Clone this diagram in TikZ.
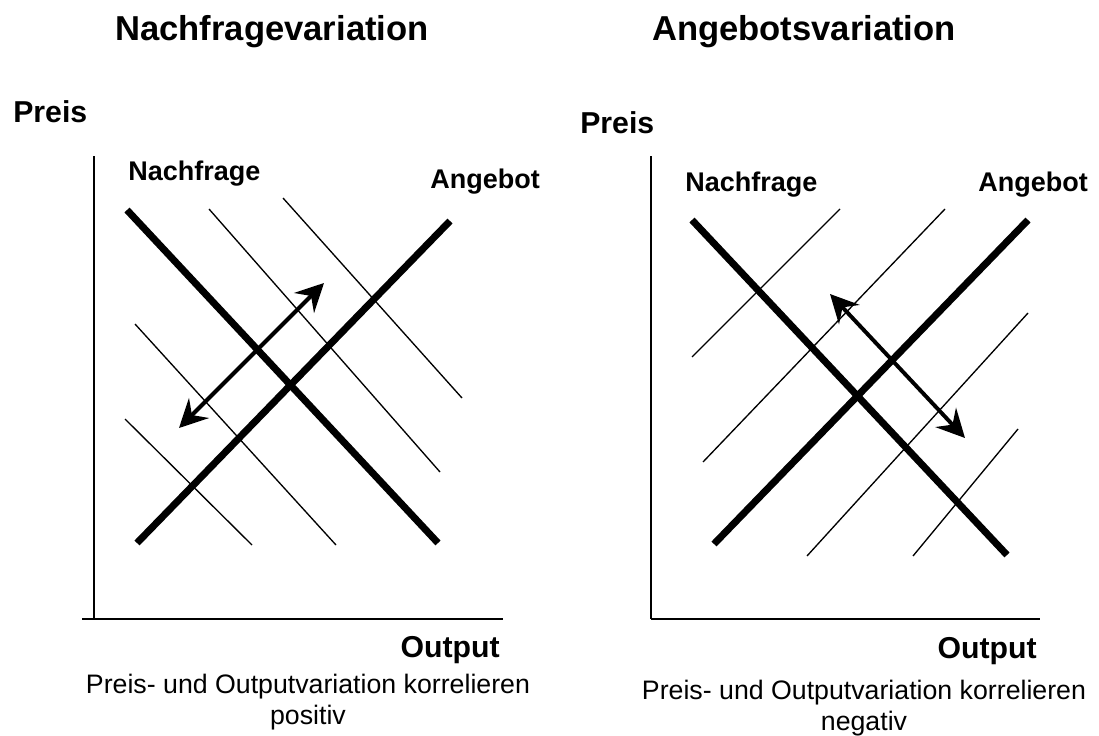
\documentclass[tikz,border=0pt]{standalone}
\usepackage{fontspec}
\setmainfont{Liberation Sans}
\usetikzlibrary{arrows.meta}

\begin{document}
\begin{tikzpicture}[x=0.025cm,y=-0.025cm,line cap=butt,
    >={Stealth[length=20pt,width=20pt,inset=7pt]},
    achse/.style={line width=1.4pt},
    kurve/.style={line width=5pt},
    schar/.style={line width=0.95pt},
    pfeil/.style={<->,line width=2.8pt},
    titel/.style={font=\bfseries\fontsize{24.6}{28}\selectfont,inner sep=0pt,anchor=base},
    achsname/.style={font=\bfseries\fontsize{21.5}{24}\selectfont,inner sep=0pt},
    lbl/.style={font=\bfseries\fontsize{19.2}{22}\selectfont,inner sep=0pt,anchor=base west},
    unter/.style={font=\fontsize{19}{22}\selectfont,align=center,inner sep=0pt,anchor=north}]
  \useasboundingbox (0,0) rectangle (1099,736);
  % links: Nachfragevariation
  \node[titel] (titelN) at (272,41) {Nachfragevariation};
  \node[achsname,anchor=base west] (preisN) at (13,123) {Preis};
  \draw[achse] (94,156)--(94,619);
  \draw[achse] (82,619)--(503,619);
  \foreach \xa/\ya/\xb/\yb in {209/209/440/472,283/198/462/398,135/324/336/545,125/419/252/545}
    \draw[schar] (\xa,\ya)--(\xb,\yb);
  \draw[kurve] (127,210)--(438,543);
  \draw[kurve] (137,543)--(450,221);
  \coordinate (nA) at (179,428);
  \coordinate (nB) at (324,283);
  \draw[pfeil] (nA)--(nB);
  \node[lbl] (nachfrageN) at (128,180) {Nachfrage};
  \node[lbl] (angebotN) at (430,188) {Angebot};
  \node[achsname,anchor=base east] (outputN) at (500,657) {Output};
  \node[unter] (textN) at (308,674) {Preis- und Outputvariation korrelieren\\positiv};
  % rechts: Angebotsvariation
  \node[titel] (titelA) at (804,41) {Angebotsvariation};
  \node[achsname,anchor=base west] (preisA) at (580,134) {Preis};
  \draw[achse] (651,156)--(651,619);
  \draw[achse] (651,619)--(1040,619);
  \foreach \xa/\ya/\xb/\yb in {692/357/840/209,703/462/945/209,807/556/1028/313,913/556/1018/429}
    \draw[schar] (\xa,\ya)--(\xb,\yb);
  \draw[kurve] (692,220)--(1007,555);
  \draw[kurve] (714,544)--(1028,220);
  \coordinate (aA) at (830,294);
  \coordinate (aB) at (965,438);
  \draw[pfeil] (aA)--(aB);
  \node[lbl] (nachfrageA) at (685,191) {Nachfrage};
  \node[lbl] (angebotA) at (978,191) {Angebot};
  \node[achsname,anchor=base east] (outputA) at (1037,658) {Output};
  \node[unter] (textA) at (864,680) {Preis- und Outputvariation korrelieren\\negativ};
\end{tikzpicture}
\end{document}
